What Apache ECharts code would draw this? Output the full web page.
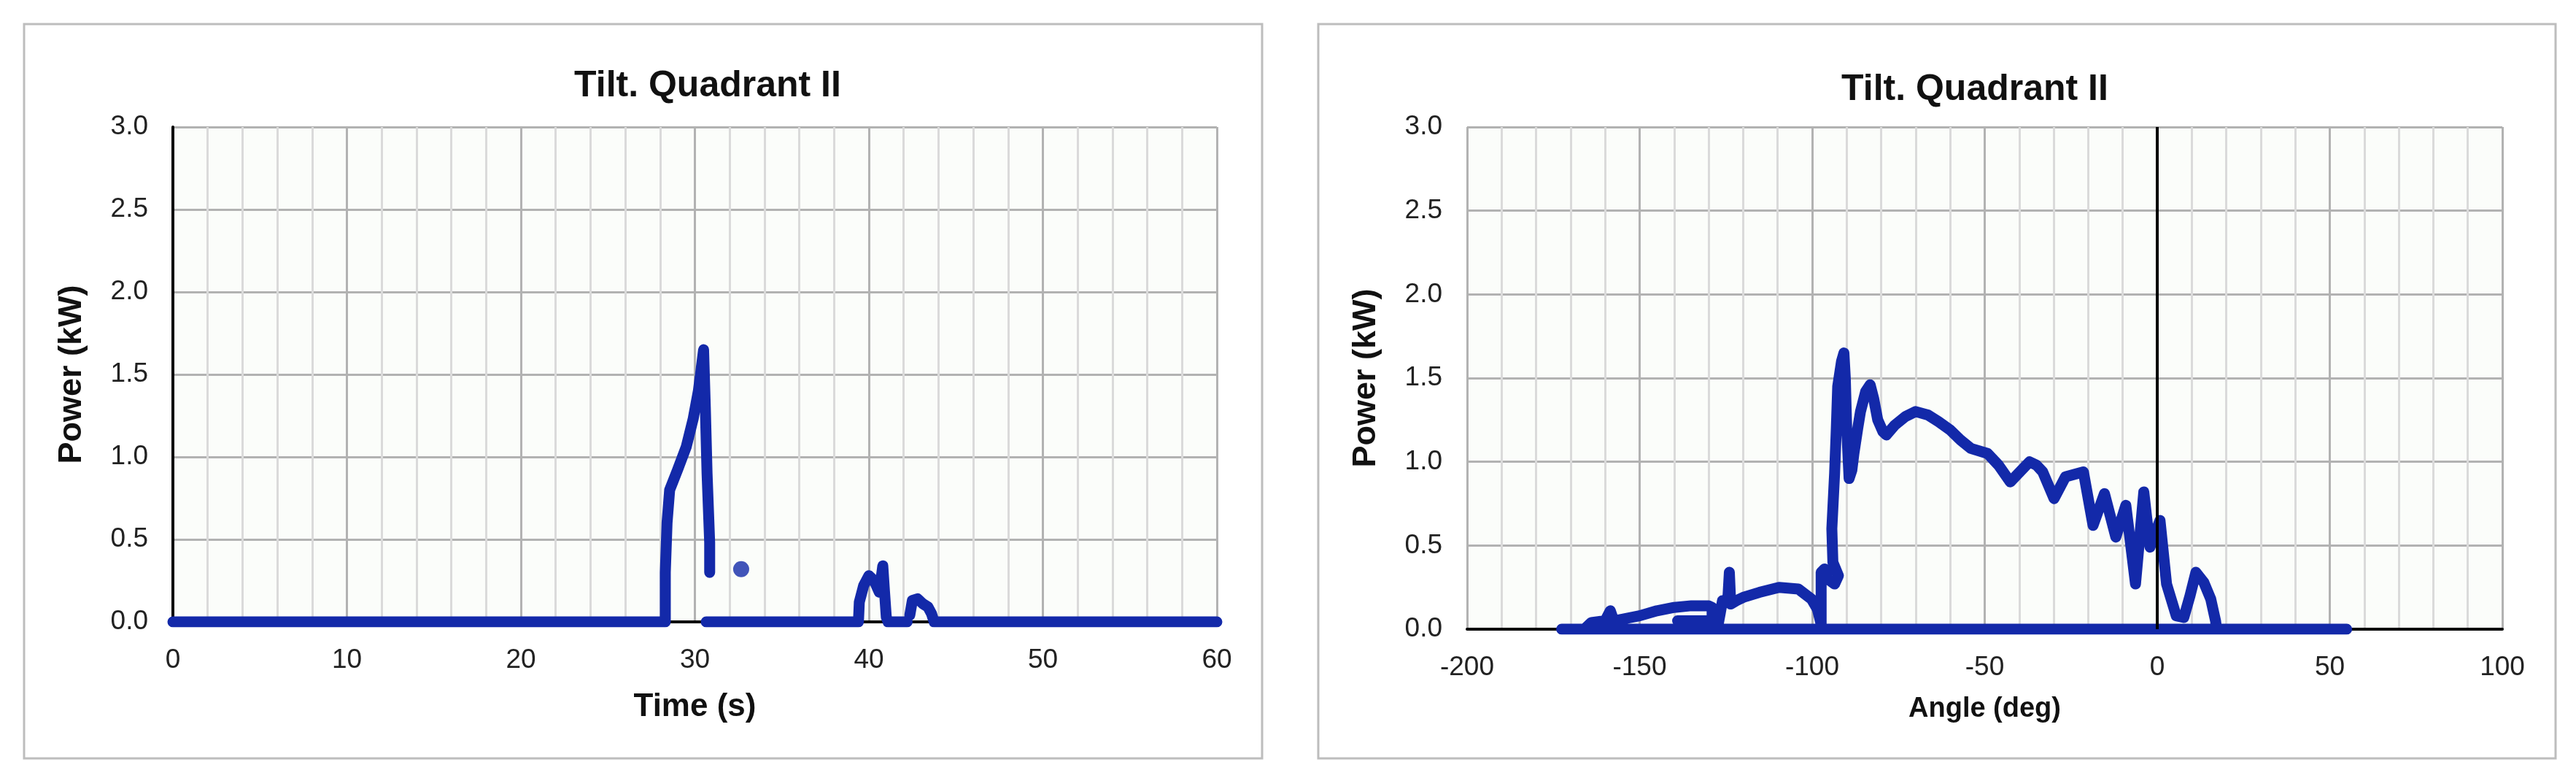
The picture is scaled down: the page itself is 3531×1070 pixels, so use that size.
<!DOCTYPE html>
<html>
<head>
<meta charset="utf-8">
<title>Tilt. Quadrant II</title>
<script src="https://cdn.jsdelivr.net/npm/echarts@6/dist/echarts.min.js"></script>
<style>
  html, body { margin: 0; padding: 0; background: #fff; }
  #chart { width: 3531px; height: 1070px; }
</style>
</head>
<body>
<div id="chart"></div>
<script>
// left chart: power against time, null = break in the trace
const timeSec = [
  0, 28.3, 28.3, 28.4, 28.55, 29.0, 29.5, 29.9, 30.2, 30.5, 30.6, 30.7, 30.85, 30.85, null,
  30.65, 39.4, 39.45, 39.7, 40.0, 40.3, 40.6, 40.8, 40.9, 41.0, 41.1, 42.2, null,
  42.35, 42.5, 42.8, 43.1, 43.4, 43.6, 43.75, 60
];
const timePower = [
  0, 0, 0.30, 0.60, 0.80, 0.92, 1.06, 1.23, 1.40, 1.65, 1.30, 0.90, 0.48, 0.30, null,
  0, 0, 0.12, 0.22, 0.28, 0.25, 0.18, 0.34, 0.18, 0.03, 0, 0, null,
  0.04, 0.13, 0.14, 0.11, 0.09, 0.05, 0, 0
];
// the lone cluster after the main peak
const spotSec = [32.66];
const spotPower = [0.32];

// right chart: power against angle
const angleDeg = [
  -172.6, 54.9, null,
  -166, -164, -160, -158.5, -157.5, -155, -150, -145, -140, -135, -130, -129, -129, -139, null,
  -127.5, -126.6, -126, -124.5, -124, -123.6, -122, -120, -115.3, -109.6, -104, -100.2, -98.5, -97.4,
  -97.4, -96.4, -95.5, -93.5, -92.4, -94, -94.3, -93.5, -93, -92.6, -91.5, -90.8, -90.4, -90, -89.3,
  -88.5, -87.9, -86.8, -86, -84.5, -83.2, -82.2, -81, -79.5, -78.5, -76, -73, -70, -66.5, -63.4,
  -60, -57, -54, -49.2, -46, -42.6, -37, -35, -33.2, -29.9, -26.6, -21.4, -18.6, -15.3, -12,
  -9.1, -6.3, -3.9, -2.1, 0.8, 2.7, 5.5, 7.7, 9.5, 11.2, 13.5, 15.5, 16.9, 17.2
];
const anglePower = [
  0, 0, null,
  0, 0.04, 0.05, 0.11, 0.05, 0.06, 0.08, 0.11, 0.13, 0.14, 0.14, 0.13, 0.05, 0.05, null,
  0, 0.10, 0.17, 0.16, 0.34, 0.15, 0.17, 0.19, 0.22, 0.25, 0.24, 0.18, 0.12, 0.03,
  0.34, 0.36, 0.30, 0.27, 0.32, 0.40, 0.60, 0.93, 1.20, 1.45, 1.60, 1.65, 1.50, 1.20, 0.90,
  0.95, 1.05, 1.20, 1.30, 1.42, 1.46, 1.38, 1.25, 1.18, 1.16, 1.22, 1.27, 1.30, 1.28, 1.24,
  1.19, 1.13, 1.08, 1.05, 0.98, 0.88, 1.00, 0.98, 0.94, 0.78, 0.91, 0.94, 0.62, 0.81, 0.55,
  0.74, 0.27, 0.82, 0.49, 0.65, 0.27, 0.08, 0.07, 0.20, 0.34, 0.28, 0.18, 0.05, 0
];

const timeTicks = [0, 60, 10];
const angleTicks = [-200, 100, 50];
const powerTicks = [0, 3, 0.5];

function zip(xs, ys) {
  return xs.map((x, i) => (x === null ? '-' : [x, ys[i]]));
}

const font = 'Liberation Sans, Arial, Helvetica, sans-serif';
const dotColor = '#1329a9';

function xAxisFor(idx, ticks, name, nameSize, gap) {
  return {
    gridIndex: idx,
    type: 'value',
    min: ticks[0], max: ticks[1], interval: ticks[2],
    axisLine: { show: true, lineStyle: { color: '#000', width: 4 } },
    axisTick: { show: false },
    axisLabel: { fontSize: 37, color: '#222', margin: 34, fontFamily: font },
    splitLine: { show: true, lineStyle: { color: '#b2b2b2', width: 3 } },
    minorTick: { show: false, splitNumber: 5 },
    minorSplitLine: { show: true, lineStyle: { color: '#dadada', width: 3 } },
    name: name,
    nameLocation: 'middle',
    nameGap: gap,
    nameTextStyle: { fontSize: nameSize, fontWeight: 'bold', color: '#111', fontFamily: font }
  };
}

function yAxisFor(idx, showLine) {
  return {
    gridIndex: idx,
    type: 'value',
    min: powerTicks[0], max: powerTicks[1], interval: powerTicks[2],
    axisLine: { show: showLine, onZero: false, lineStyle: { color: '#000', width: 4 } },
    axisTick: { show: false },
    axisLabel: { fontSize: 37, color: '#222', margin: 34, fontFamily: font, formatter: v => v.toFixed(1) },
    splitLine: { show: true, lineStyle: { color: '#b2b2b2', width: 3 } },
    name: 'Power (kW)',
    nameLocation: 'middle',
    nameGap: 116,
    nameTextStyle: { fontSize: 45, fontWeight: 'bold', color: '#111', fontFamily: font }
  };
}

function trace(name, idx, data) {
  return {
    name: name,
    type: 'line',
    xAxisIndex: idx, yAxisIndex: idx,
    data: data,
    showSymbol: false,
    connectNulls: false,
    z: 3,
    lineStyle: { color: dotColor, width: 15, cap: 'round', join: 'round' }
  };
}

const chart = echarts.init(document.getElementById('chart'));
chart.setOption({
  backgroundColor: '#fff',
  animation: false,
  title: [
    { text: 'Tilt. Quadrant II', left: 965, top: 88, textAlign: 'center',
      textStyle: { fontSize: 50, fontWeight: 'bold', color: '#111', fontFamily: font } },
    { text: 'Tilt. Quadrant II', left: 2702, top: 93, textAlign: 'center',
      textStyle: { fontSize: 50, fontWeight: 'bold', color: '#111', fontFamily: font } }
  ],
  graphic: [
    { type: 'rect', shape: { x: 33, y: 33, width: 1697, height: 1006 },
      style: { fill: 'none', stroke: '#bdbdbd', lineWidth: 3 }, z: -1 },
    { type: 'rect', shape: { x: 1807, y: 33, width: 1696, height: 1006 },
      style: { fill: 'none', stroke: '#bdbdbd', lineWidth: 3 }, z: -1 }
  ],
  grid: [
    { left: 237, top: 174, width: 1431, height: 678, show: true, backgroundColor: '#fbfdfa', borderWidth: 0 },
    { left: 2011, top: 174, width: 1419, height: 688, show: true, backgroundColor: '#fbfdfa', borderWidth: 0 }
  ],
  xAxis: [
    xAxisFor(0, timeTicks, 'Time (s)', 44, 95),
    xAxisFor(1, angleTicks, 'Angle (deg)', 38, 91)
  ],
  yAxis: [yAxisFor(0, true), yAxisFor(1, false)],
  series: [
    trace('Power vs time', 0, zip(timeSec, timePower)),
    {
      name: 'Power vs time (spot)',
      type: 'scatter',
      xAxisIndex: 0, yAxisIndex: 0,
      data: zip(spotSec, spotPower),
      symbolSize: 22,
      z: 3,
      itemStyle: { color: dotColor }
    },
    {
      name: 'zero angle',
      type: 'line',
      xAxisIndex: 1, yAxisIndex: 1,
      data: [],
      z: 2,
      markLine: {
        silent: true,
        symbol: 'none',
        label: { show: false },
        lineStyle: { color: '#000', width: 4, type: 'solid' },
        data: [{ xAxis: 0 }]
      }
    },
    trace('Power vs angle', 1, zip(angleDeg, anglePower))
  ]
});
</script>
</body>
</html>
